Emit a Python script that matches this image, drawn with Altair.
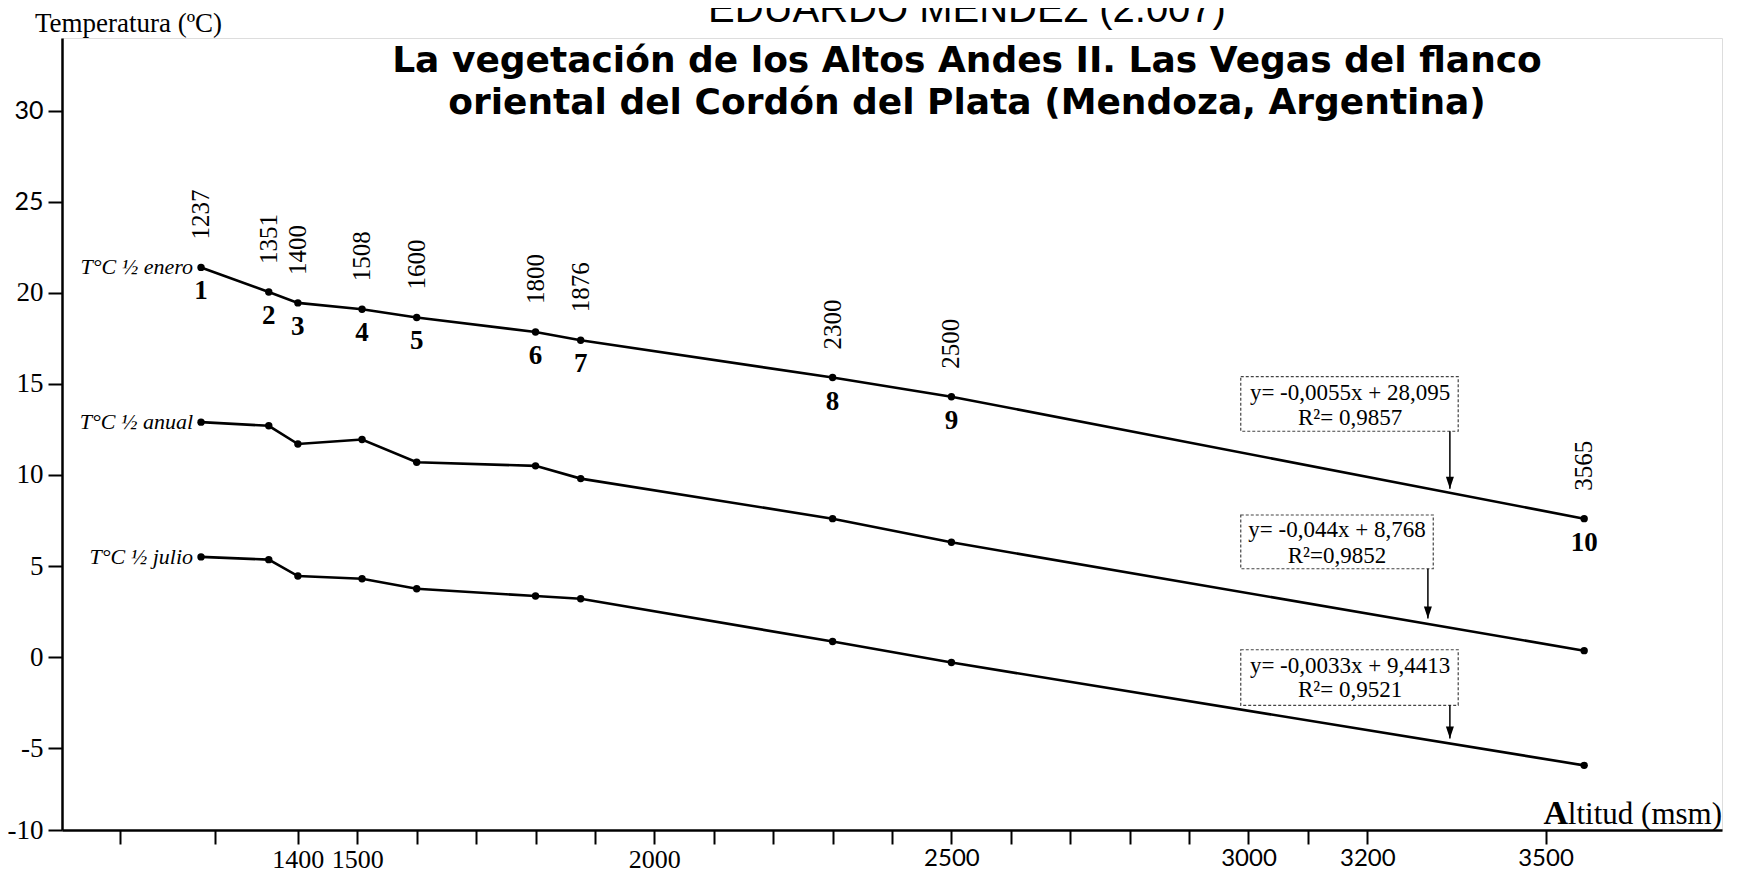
import altair as alt
import pandas as pd

# ---------------- data ----------------
altitudes = [1237, 1351, 1400, 1508, 1600, 1800, 1876, 2300, 2500, 3565]
station_numbers = ["1", "2", "3", "4", "5", "6", "7", "8", "9", "10"]
t_enero = [21.4, 20.05, 19.45, 19.1, 18.65, 17.85, 17.4, 15.35, 14.3, 7.6]
t_anual = [12.9, 12.7, 11.7, 11.95, 10.7, 10.5, 9.8, 7.6, 6.3, 0.35]
t_julio = [5.5, 5.35, 4.45, 4.3, 3.75, 3.35, 3.2, 0.85, -0.3, -5.95]
series_labels = ["T°C ½ enero", "T°C ½ anual", "T°C ½ julio"]

x_tick_values = [1100, 1260, 1400, 1500, 1600, 1700, 1800, 1900, 2000, 2100, 2200,
                 2300, 2400, 2500, 2600, 2700, 2800, 2900, 3000, 3100, 3200, 3500]
x_label_values = [1400, 1500, 2000, 2500, 3000, 3200, 3500]
# the printed "-10" mark sits on the drawn axis line (slightly above -10)
y_tick_values = [-9.5, -5, 0, 5, 10, 15, 20, 25, 30]

eq_line1 = ["y= -0,0055x + 28,095", "y= -0,044x + 8,768", "y= -0,0033x + 9,4413"]
eq_line2 = ["R²= 0,9857", "R²=0,9852", "R²= 0,9521"]

# annotation anchors (data units)
box_left = [2987, 2987, 2987]
box_right = [3353, 3311, 3353]
box_top = [15.4, 7.8, 0.4]
box_bottom = [12.4, 4.85, -2.65]
eq_x = [3171, 3149, 3171]
eq_y1 = [14.5, 6.95, -0.47]
eq_y2 = [13.15, 5.55, -1.8]
arrow_x = [3339, 3302, 3339]
arrow_tip = [9.24, 2.11, -4.48]

title_main = "EDUARDO MENDEZ (2.007)"
title_sub = ["La vegetación de los Altos Andes II. Las Vegas del flanco",
             "oriental del Cordón del Plata (Mendoza, Argentina)"]

# ---------------- tables ----------------
rows = []
for name, vals in zip(series_labels, [t_enero, t_anual, t_julio]):
    for a, t, s in zip(altitudes, vals, station_numbers):
        rows.append({"alt": a, "temp": t, "station": s, "series": name})
df = pd.DataFrame(rows)

ann = pd.DataFrame({
    "bx1": box_left, "bx2": box_right, "by1": box_top, "by2": box_bottom,
    "ex": eq_x, "ey1": eq_y1, "ey2": eq_y2, "eq1": eq_line1, "eq2": eq_line2,
    "ax": arrow_x, "atip": arrow_tip,
})
xt = pd.DataFrame({"x": [3797], "y": [-9.5], "t1": ["A"], "t2": ["ltitud (msm)"]})

# ---------------- scales / axes ----------------
SERIF = "Liberation Serif"
label_list = "[" + ",".join(str(v) for v in x_label_values) + "]"

xscale = alt.Scale(domain=[1003, 3797], nice=False, zero=False)
yscale = alt.Scale(domain=[-9.5, 34], nice=False, zero=False)

xaxis = alt.Axis(
    values=x_tick_values, grid=False, title=None,
    labelExpr=f"indexof({label_list}, datum.value) >= 0 ? '' + datum.value : ''",
    domainColor="black", domainWidth=2.5, tickColor="black", tickWidth=2,
    tickSize=14, labelPadding=2, labelColor="black",
    labelFont={"condition": {"test": "datum.value >= 2500", "value": "Lato"}, "value": SERIF},
    labelFontSize={"condition": {"test": "datum.value >= 2500", "value": 24}, "value": 26},
    labelOverlap=False, labelFlush=False,
)
yaxis = alt.Axis(
    values=y_tick_values, grid=False,
    labelExpr="datum.value < -9 ? '-10' : '' + datum.value",
    title="Temperatura (ºC)", titleAngle=0, titleAlign="center", titleBaseline="alphabetic",
    titleX=66, titleY=-7, titleFont=SERIF, titleFontSize=27, titleFontWeight="normal",
    titleColor="black",
    domainColor="black", domainWidth=2.5, tickColor="black", tickWidth=2,
    tickSize=14, labelPadding=5, labelColor="black",
    labelFont={"condition": {"test": "datum.value >= 25", "value": "Lato"}, "value": SERIF},
    labelFontSize={"condition": {"test": "datum.value >= 25", "value": 25}, "value": 27},
    labelOverlap=False, labelFlush=False,
)


def X(field):
    return alt.X(field, type="quantitative", scale=xscale, axis=xaxis, title=None)


def Y(field):
    return alt.Y(field, type="quantitative", scale=yscale, axis=yaxis, title="Temperatura (ºC)")


base = alt.Chart(df)

lines = base.mark_line(color="black", strokeWidth=2.6).encode(
    x=X("alt"), y=Y("temp"), detail="series:N", order="alt:Q")
points = base.mark_circle(color="black", size=55, opacity=1).encode(x=X("alt"), y=Y("temp"))

series_text = base.transform_filter(alt.datum.alt == altitudes[0]).mark_text(
    align="right", baseline="middle", dx=-8, font=SERIF, fontStyle="italic",
    fontSize=22, color="black").encode(x=X("alt"), y=Y("temp"), text="series:N")

enero = base.transform_filter(alt.datum.series == series_labels[0])
alt_text = enero.mark_text(
    angle=270, align="left", baseline="middle", dx=28, font=SERIF, fontSize=25,
    color="black").encode(x=X("alt"), y=Y("temp"), text=alt.Text("alt:Q", format="d"))
num_text = enero.mark_text(
    baseline="middle", dy=24, font=SERIF, fontWeight="bold", fontSize=27,
    color="black").encode(x=X("alt"), y=Y("temp"), text="station:N")

abase = alt.Chart(ann)
boxes = abase.mark_rect(fill="white", stroke="#444", strokeWidth=1.2, strokeDash=[3, 2]).encode(
    x=X("bx1"), x2="bx2", y=Y("by1"), y2="by2")
eq1 = abase.mark_text(font=SERIF, fontSize=23, baseline="middle", color="black").encode(
    x=X("ex"), y=Y("ey1"), text="eq1:N")
eq2 = abase.mark_text(font=SERIF, fontSize=23, baseline="middle", color="black").encode(
    x=X("ex"), y=Y("ey2"), text="eq2:N")
arrows = abase.mark_rule(color="black", strokeWidth=1.5).encode(
    x=X("ax"), y=Y("by2"), y2="atip")
heads = abase.mark_point(shape="M-0.8,-2.4L0.8,-2.4L0,0Z", filled=True, color="black",
                         size=100, opacity=1, strokeWidth=0).encode(x=X("ax"), y=Y("atip"))

tbase = alt.Chart(xt)
xtitle2 = tbase.mark_text(align="right", baseline="alphabetic", dy=-6, font=SERIF,
                          fontSize=31, color="black").encode(x=X("x"), y=Y("y"), text="t2:N")
xtitle1 = tbase.mark_text(align="right", baseline="alphabetic", dy=-6, dx=-154, font=SERIF,
                          fontWeight="bold", fontSize=34, color="black").encode(
    x=X("x"), y=Y("y"), text="t1:N")

chart = alt.layer(
    lines, points, series_text, alt_text, num_text,
    boxes, eq1, eq2, arrows, heads, xtitle2, xtitle1,
).properties(
    width=1660, height=792,
    autosize=alt.AutoSizeParams(type="none"),
    padding={"left": 54, "top": 30, "right": 10, "bottom": 44},
    title=alt.TitleParams(
        text=title_main, subtitle=title_sub, anchor="middle", dx=75, dy=112, offset=0,
        font="Liberation Sans", fontSize=40, fontWeight="normal", color="black",
        subtitleFont="DejaVu Sans", subtitleFontSize=36, subtitleFontWeight="bold",
        subtitleColor="black", subtitleLineHeight=42, subtitlePadding=14,
    ),
).configure_view(strokeWidth=0).configure(background="white")

chart.save("out.html", embed_options={"renderer": "svg", "actions": False})
